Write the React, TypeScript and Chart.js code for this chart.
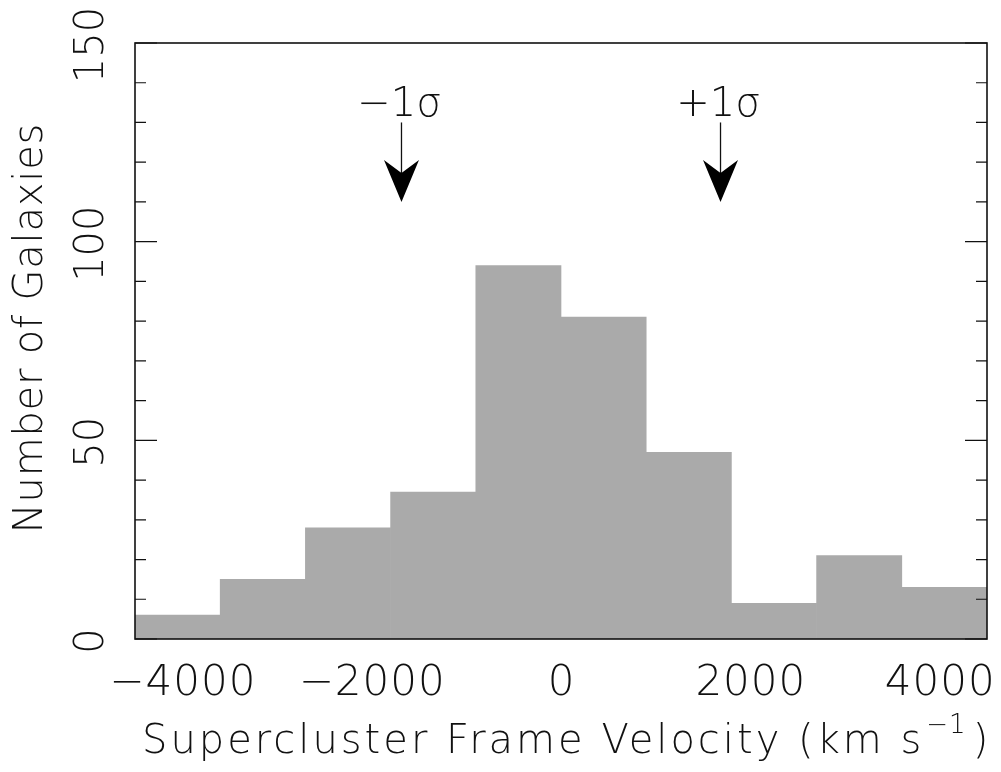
import React, { useEffect, useRef } from "react";
import { Chart, registerables } from "chart.js";

Chart.register(...registerables);

// ---- data ----
const binEdges = [-4500, -3600, -2700, -1800, -900, 0, 900, 1800, 2700, 3600, 4500];
const galaxyCounts = [6, 15, 28, 37, 94, 81, 47, 9, 21, 13];
const xLabelTicks = [-4000, -2000, 0, 2000, 4000];
const yLabelTicks = [0, 50, 100, 150];
const sigmaVelocities = [-1685, 1685];
const sigmaLabels = ["\u22121\u03c3", "+1\u03c3"];
const arrowTopValue = 130;
const arrowTipValue = 110;
const xTitle = "Supercluster Frame Velocity (km s";
const xTitleSup = "\u22121";
const yTitle = "Number of Galaxies";

const INK = "#111";
const BAR = "#aaaaaa";
const FONT = '"DejaVu Sans", "Liberation Sans", sans-serif';
const W = 200;

const fmt = (v: number) => (v < 0 ? "\u2212" + Math.abs(v) : String(v));

const setSpacing = (ctx: any, px: number) => {
  if ("letterSpacing" in ctx) ctx.letterSpacing = `${px}px`;
};

const framePlugin = {
  id: "pgframe",
  afterDatasetsDraw(chart: any) {
    const { ctx, chartArea, scales } = chart;
    const { left, right, top, bottom } = chartArea;
    const x = scales.x;
    const y = scales.y;
    ctx.save();
    ctx.strokeStyle = INK;
    ctx.fillStyle = INK;
    ctx.lineWidth = 1.2;
    ctx.lineCap = "butt";

    // x ticks (inside, bottom and top)
    for (const t of x.ticks) {
      const v = t.value;
      if (v % 1000 !== 0 || v <= x.min || v >= x.max) continue;
      const len = v % 2000 === 0 ? 22 : 11;
      const px = x.getPixelForValue(v);
      ctx.beginPath();
      ctx.moveTo(px, bottom);
      ctx.lineTo(px, bottom - len);
      ctx.moveTo(px, top);
      ctx.lineTo(px, top + len);
      ctx.stroke();
    }
    // y ticks (inside, left and right)
    for (const t of y.ticks) {
      const v = t.value;
      if (v % 10 !== 0) continue;
      const len = v % 50 === 0 ? 22 : 11;
      const py = y.getPixelForValue(v);
      ctx.beginPath();
      ctx.moveTo(left, py);
      ctx.lineTo(left + len, py);
      ctx.moveTo(right, py);
      ctx.lineTo(right - len, py);
      ctx.stroke();
    }
    // frame
    ctx.lineWidth = 1.6;
    ctx.strokeRect(left, top, right - left, bottom - top);

    // x tick labels
    ctx.font = `${W} 42px ${FONT}`;
    ctx.textAlign = "center";
    ctx.textBaseline = "alphabetic";
    setSpacing(ctx, 1);
    for (const v of xLabelTicks) {
      ctx.fillText(fmt(v), x.getPixelForValue(v) + 0.5, bottom + 56);
    }
    // y tick labels (rotated)
    ctx.font = `${W} 40px ${FONT}`;
    setSpacing(ctx, 0);
    for (const v of yLabelTicks) {
      const py = y.getPixelForValue(v);
      ctx.save();
      ctx.translate(left - 32, py + 2);
      ctx.rotate(-Math.PI / 2);
      ctx.fillText(fmt(v), 0, 0);
      ctx.restore();
    }
    // x title with superscript
    ctx.font = `${W} 40px ${FONT}`;
    ctx.textAlign = "left";
    setSpacing(ctx, 3);
    const startX = left + 7;
    const baseY = bottom + 114;
    ctx.fillText(xTitle, startX, baseY);
    let cx = startX + ctx.measureText(xTitle).width;
    ctx.font = `${W} 26px ${FONT}`;
    setSpacing(ctx, 1);
    ctx.fillText(xTitleSup, cx + 2, baseY - 20);
    cx += ctx.measureText(xTitleSup).width + 8;
    ctx.font = `${W} 40px ${FONT}`;
    setSpacing(ctx, 0);
    ctx.fillText(")", cx, baseY);

    // y title (rotated)
    setSpacing(ctx, 0.8);
    ctx.save();
    ctx.translate(42, (top + bottom) / 2 - 13);
    ctx.rotate(-Math.PI / 2);
    ctx.textAlign = "center";
    ctx.fillText(yTitle, 0, 0);
    ctx.restore();
    setSpacing(ctx, 0);

    // sigma arrows
    ctx.textAlign = "center";
    ctx.font = `${W} 40px ${FONT}`;
    sigmaVelocities.forEach((vel, i) => {
      const px = x.getPixelForValue(vel);
      const yTop = y.getPixelForValue(arrowTopValue);
      const yTip = y.getPixelForValue(arrowTipValue);
      const notch = yTip - 29;
      ctx.lineWidth = 1.3;
      ctx.beginPath();
      ctx.moveTo(px, yTop);
      ctx.lineTo(px, notch + 2);
      ctx.stroke();
      ctx.beginPath();
      ctx.moveTo(px, yTip);
      ctx.lineTo(px - 17.5, yTip - 42);
      ctx.lineTo(px, notch);
      ctx.lineTo(px + 17.5, yTip - 42);
      ctx.closePath();
      ctx.fillStyle = "#000";
      ctx.fill();
      ctx.fillStyle = INK;
      ctx.fillText(sigmaLabels[i], px - 2, yTop - 6);
    });
    ctx.restore();
  },
};

export default function App() {
  const ref = useRef<HTMLCanvasElement | null>(null);
  useEffect(() => {
    if (!ref.current) return;
    const centers = galaxyCounts.map((_, i) => (binEdges[i] + binEdges[i + 1]) / 2);
    const chart = new Chart(ref.current, {
      type: "bar",
      data: {
        datasets: [
          {
            data: galaxyCounts.map((c, i) => ({ x: centers[i], y: c })),
            backgroundColor: BAR,
            borderWidth: 0,
            barPercentage: 1,
            categoryPercentage: 1,
          },
        ],
      },
      options: {
        animation: false,
        responsive: true,
        maintainAspectRatio: false,
        layout: { padding: { left: 0, right: 14, top: 43, bottom: 0 } },
        plugins: { legend: { display: false }, tooltip: { enabled: false } },
        scales: {
          x: {
            type: "linear",
            min: binEdges[0],
            max: binEdges[binEdges.length - 1],
            offset: false,
            grid: { display: false, drawTicks: false },
            border: { display: false },
            ticks: { display: false, stepSize: 1000 },
            afterFit: (s: any) => {
              s.height = 133;
            },
          },
          y: {
            type: "linear",
            min: 0,
            max: 150,
            grid: { display: false, drawTicks: false },
            border: { display: false },
            ticks: { display: false, stepSize: 10 },
            afterFit: (s: any) => {
              s.width = 135;
            },
          },
        },
      },
      plugins: [framePlugin],
    });
    return () => chart.destroy();
  }, []);
  return (
    <div style={{ position: "fixed", left: 0, top: 0, width: 1001, height: 772, background: "#fff" }}>
      <canvas ref={ref} />
    </div>
  );
}
